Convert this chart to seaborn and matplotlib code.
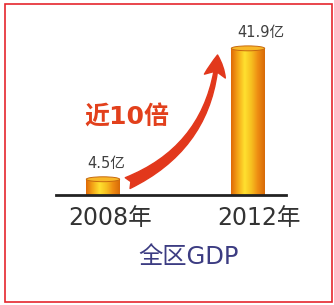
import numpy as np
import matplotlib
matplotlib.use("Agg")
import matplotlib.pyplot as plt
import seaborn as sns
from matplotlib.patches import Ellipse, Rectangle
from matplotlib.colors import LinearSegmentedColormap

years = ["2008年", "2012年"]
gdp = [4.5, 41.9]
value_labels = ["4.5亿", "41.9亿"]
title = "全区GDP"
note = "近10倍"

sns.set_style("white")
plt.rcParams["font.family"] = ["DejaVu Sans", "Noto Sans CJK SC"]

fig = plt.figure(figsize=(3.34, 3.05), dpi=100)
ax = fig.add_axes([56 / 334, 110 / 305, 230 / 334, 175 / 305])

sns.barplot(x=years, y=gdp, ax=ax, width=0.23, color="#f2a21a", edgecolor="none")

# golden cylinder look
gold = LinearSegmentedColormap.from_list(
    "gold", ["#e06a08", "#f5a818", "#ffe030", "#f7c020", "#ee8c12", "#d86a08"])
grad = np.linspace(0, 1, 64).reshape(1, -1)
for p in list(ax.patches):
    x0, w, h = p.get_x(), p.get_width(), p.get_height()
    im = ax.imshow(grad, cmap=gold, aspect="auto", extent=[x0, x0 + w, 0, h],
                   zorder=p.get_zorder() + 0.1)
    im.set_clip_path(p)
    ax.add_patch(Ellipse((x0 + w / 2, h), w, 1.4, facecolor="#f8b828",
                         edgecolor="#c86a10", lw=0.7, zorder=p.get_zorder() + 0.2))

ax.set_xlim(-0.324, 1.262)
ax.set_ylim(0, 50)

for i, (v, lab) in enumerate(zip(gdp, value_labels)):
    ax.annotate(lab, (i, v), xytext=(2 + 7 * i, 6), textcoords="offset points",
                ha="center", va="bottom", fontsize=10.5, color="#404040")

# curved growth arrow
ax.annotate("", xy=(0.79, 40.0), xytext=(0.17, 3.4),
            arrowprops=dict(arrowstyle="fancy,head_length=0.9,head_width=0.9,tail_width=0.5",
                            connectionstyle="arc3,rad=0.3", color="#e2381c",
                            mutation_scale=17, shrinkA=0, shrinkB=0))
ax.text(0.165, 22.2, note, ha="center", va="center", fontsize=18,
        fontweight="bold", color="#e2401c")

sns.despine(ax=ax, left=True, top=True, right=True)
ax.spines["bottom"].set_linewidth(2)
ax.spines["bottom"].set_color("#222222")
ax.set_yticks([])
ax.set_xticks([0.05, 1.075], years)
ax.tick_params(axis="x", length=0, pad=8, labelsize=17, labelcolor="#333333")
ax.set_xlabel("")
ax.patch.set_alpha(0)

fig.text(189 / 334, 1 - 257 / 305, title, ha="center", va="center",
         fontsize=17.5, color="#3c3c82")
fig.add_artist(Rectangle((5 / 334, 3 / 305), 327 / 334, 298 / 305,
                         transform=fig.transFigure, fill=False,
                         edgecolor="#e5262e", lw=1.2))

fig.savefig("out.png", dpi=100)
